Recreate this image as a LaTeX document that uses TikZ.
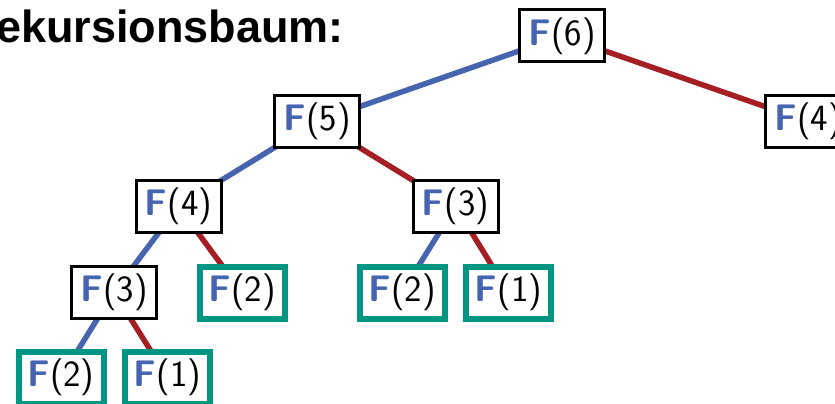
\documentclass[tikz,border=0pt]{standalone}
\usepackage{fontspec}
\newfontfamily\titlefont{Liberation Sans}
\usetikzlibrary{backgrounds}
\definecolor{fblue}{RGB}{70,100,175}
\definecolor{fred}{RGB}{165,30,35}
\definecolor{fgreen}{RGB}{0,150,130}
\newcommand{\fib}[1]{\textcolor{fblue}{\bfseries F}(#1)}
\tikzset{
  call/.style={draw=black, line width=3pt, fill=white, inner sep=0pt,
    minimum width=85pt, minimum height=52pt,
    font=\sffamily\fontsize{37}{44}\selectfont},
  leaf/.style={call, draw=fgreen, line width=6pt},
  lft/.style={fblue, line width=5.5pt},
  rgt/.style={fred, line width=5.5pt}
}
\begin{document}
\begin{tikzpicture}[x=1pt,y=-1pt]
  \useasboundingbox (0,0) rectangle (835,404);
  \clip (0,0) rectangle (835,404);
  \node[anchor=base east, inner sep=0pt, font=\titlefont\bfseries\fontsize{45}{54}\selectfont] (titel) at (344,43) {Rekursionsbaum:};
  \node[call] (f6) at (562,36) {\fib{6}};
  \node[call] (f5) at (317,121.5) {\fib{5}};
  \node[call] (f4r) at (808,121.5) {\fib{4}};
  \node[call] (f4) at (178.5,206.5) {\fib{4}};
  \node[call] (f3m) at (455.5,206.5) {\fib{3}};
  \node[call] (f3) at (114,292) {\fib{3}};
  \node[leaf] (f2a) at (242,292.5) {\fib{2}};
  \node[leaf] (f2b) at (402,292.5) {\fib{2}};
  \node[leaf] (f1b) at (508.5,292.5) {\fib{1}};
  \node[leaf] (f2c) at (61,377.5) {\fib{2}};
  \node[leaf] (f1c) at (167.5,377.5) {\fib{1}};
  \begin{scope}[on background layer]
    \draw[lft] (f6.center) -- (f5.center);
    \draw[rgt] (f6.center) -- (f4r.center);
    \draw[lft] (f5.center) -- (f4.center);
    \draw[rgt] (f5.center) -- (f3m.center);
    \draw[lft] (f4.center) -- (f3.center);
    \draw[rgt] (f4.center) -- (f2a.center);
    \draw[lft] (f3m.center) -- (f2b.center);
    \draw[rgt] (f3m.center) -- (f1b.center);
    \draw[lft] (f3.center) -- (f2c.center);
    \draw[rgt] (f3.center) -- (f1c.center);
  \end{scope}
\end{tikzpicture}
\end{document}
